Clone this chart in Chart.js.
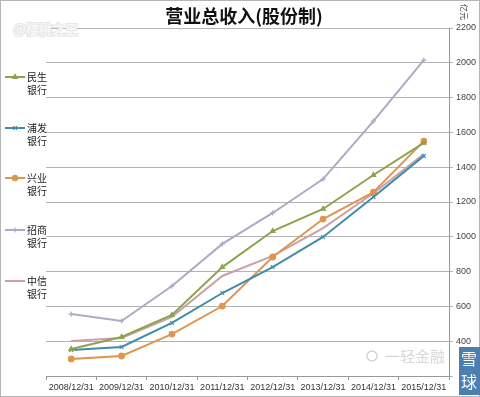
<!DOCTYPE html>
<html>
<head>
<meta charset="utf-8">
<script src="https://cdn.jsdelivr.net/npm/chart.js@4/dist/chart.umd.min.js"></script>
<style>
  body { margin: 0; background: #fff; }
  #wrap { width: 480px; height: 397px; }
</style>
</head>
<body>
<div id="wrap"><canvas id="myChart" width="480" height="397"></canvas></div>
<script>
const years = ["2008/12/31", "2009/12/31", "2010/12/31", "2011/12/31", "2012/12/31", "2013/12/31", "2014/12/31", "2015/12/31"];
const minsheng = [355, 424, 551, 826, 1033, 1160, 1355, 1540];
const pufa = [350, 367, 505, 677, 826, 999, 1229, 1465];
const xingye = [298, 315, 441, 602, 884, 1102, 1257, 1550];
const zhaoshang = [556, 516, 717, 959, 1137, 1332, 1665, 2015];
const zhongxin = [401, 418, 540, 775, 890, 1050, 1250, 1475];
const bankNames = [["民生", "银行"], ["浦发", "银行"], ["兴业", "银行"], ["招商", "银行"], ["中信", "银行"]];
const legendY = [77, 128, 178, 230, 281];

const cjk = '"Noto Sans CJK SC", sans-serif';

function series(label, data, color, style, radius) {
  return {
    label: label, data: data,
    borderColor: color, backgroundColor: color,
    borderWidth: 2, tension: 0,
    pointStyle: style, pointRadius: radius, pointBorderWidth: 1.2,
    pointBackgroundColor: color, pointBorderColor: color
  };
}

const datasets = [
  series("民生银行", minsheng, "#8fa24e", "triangle", 2.6),
  series("浦发银行", pufa, "#3d8ea6", "crossRot", 2.6),
  series("兴业银行", xingye, "#df954e", "circle", 2.8),
  series("招商银行", zhaoshang, "#a9adc2", "cross", 2.6),
  series("中信银行", zhongxin, "#c9a2a8", "circle", 0)
];

const decor = {
  id: "decor",
  afterDraw(chart) {
    const ctx = chart.ctx;
    ctx.save();
    // frame
    ctx.strokeStyle = "#b5b5b5";
    ctx.lineWidth = 1;
    ctx.strokeRect(0.5, 0.5, 479, 396);
    // title
    ctx.fillStyle = "#111";
    ctx.font = "bold 18px " + cjk;
    ctx.textAlign = "center";
    ctx.textBaseline = "middle";
    ctx.fillText("营业总收入(股份制)", 244, 16);
    // unit, rotated
    ctx.save();
    ctx.translate(464, 12);
    ctx.rotate(Math.PI / 2);
    ctx.font = "8px " + cjk;
    ctx.fillStyle = "#333";
    ctx.fillText("亿元", 0, 0);
    ctx.restore();
    // top-left watermark
    ctx.font = "bold 13px " + cjk;
    ctx.textAlign = "left";
    ctx.lineWidth = 2;
    ctx.strokeStyle = "#e6e6e6";
    ctx.strokeText("@樱桃之王", 13, 29);
    ctx.fillStyle = "#f7f7f7";
    ctx.fillText("@樱桃之王", 13, 29);
    // legend
    ctx.font = "10px " + cjk;
    datasets.forEach((ds, i) => {
      const y = legendY[i];
      ctx.strokeStyle = ds.borderColor;
      ctx.fillStyle = ds.borderColor;
      ctx.lineWidth = 2;
      ctx.beginPath();
      ctx.moveTo(5, y);
      ctx.lineTo(25, y);
      ctx.stroke();
      if (ds.pointRadius > 0) {
        ctx.lineWidth = 1.2;
        Chart.helpers.drawPoint(ctx, { pointStyle: ds.pointStyle, radius: 2.6, borderWidth: 1.2, rotation: 0 }, 15, y);
      }
      ctx.fillStyle = "#222";
      ctx.textAlign = "left";
      ctx.fillText(bankNames[i][0], 27, y);
      ctx.fillText(bankNames[i][1], 27, y + 13);
    });
    // bottom-right watermark
    ctx.font = "15px " + cjk;
    ctx.fillStyle = "rgba(200,200,200,0.7)";
    ctx.fillText("一轻金融", 385, 356);
    ctx.strokeStyle = "rgba(200,200,200,0.8)";
    ctx.lineWidth = 1.5;
    ctx.beginPath();
    ctx.arc(372, 356, 5, 0, Math.PI * 2);
    ctx.stroke();
    // xueqiu badge
    ctx.fillStyle = "#4d7fae";
    ctx.fillRect(459, 347, 21, 48);
    ctx.fillStyle = "#fff";
    ctx.font = "16px " + cjk;
    ctx.textAlign = "center";
    ctx.fillText("雪", 469, 359);
    ctx.fillText("球", 469, 382);
    ctx.restore();
  }
};

new Chart(document.getElementById("myChart"), {
  type: "line",
  data: { labels: years, datasets: datasets },
  options: {
    responsive: false,
    animation: false,
    layout: { padding: { left: 46, top: 28, right: 0, bottom: 0 } },
    plugins: { legend: { display: false }, title: { display: false }, tooltip: { enabled: false } },
    scales: {
      x: {
        offset: true,
        grid: { drawOnChartArea: false, drawTicks: true, tickLength: 4, color: "#999", offset: true },
        border: { color: "#999" },
        ticks: { autoSkip: false, maxRotation: 0, padding: 2, color: "#333", font: { family: "Liberation Sans, Arial, sans-serif", size: 9 } },
        afterFit(s) { s.height = 21; }
      },
      y: {
        position: "right",
        min: 200, max: 2200,
        grid: { color: "#b3b3b3", tickLength: 4 },
        border: { color: "#999" },
        ticks: {
          stepSize: 200, padding: 3, color: "#444",
          font: { family: "Liberation Sans, Arial, sans-serif", size: 9 },
          callback: v => (v === 200 ? "" : v)
        },
        afterFit(s) { s.width = 31; }
      }
    }
  },
  plugins: [decor]
});
</script>
</body>
</html>
